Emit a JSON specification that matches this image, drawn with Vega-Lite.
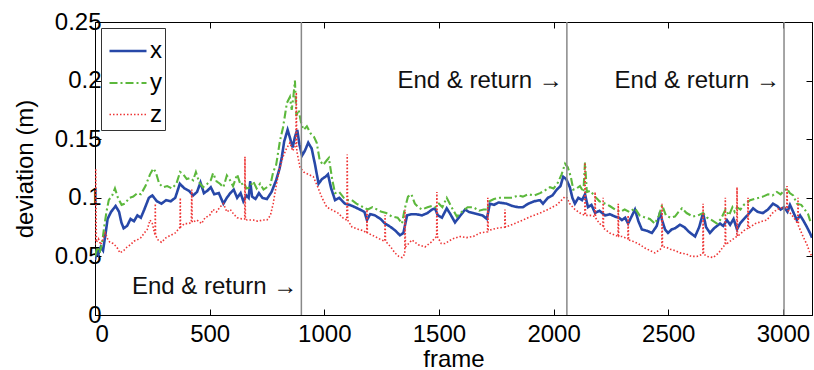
{
  "$schema": "https://vega.github.io/schema/vega-lite/v6.json",
  "autosize": "none",
  "width": 717,
  "height": 293,
  "padding": {"left": 95, "top": 22, "right": 2, "bottom": 55},
  "background": "white",
  "config": {
    "font": "Liberation Sans",
    "view": {"stroke": "#000", "strokeWidth": 1},
    "axis": {
      "domainColor": "#000", "tickColor": "#000", "labelColor": "#000", "titleColor": "#000",
      "labelFont": "Liberation Sans", "titleFont": "Liberation Sans",
      "labelFontSize": 24, "titleFontSize": 24, "titleFontWeight": "normal",
      "grid": false, "tickSize": -6
    }
  },
  "datasets": {
    "series": [
      {"frame":0,"s":"x","v":0.047},{"frame":8,"s":"x","v":0.056},{"frame":15,"s":"x","v":0.052},{"frame":25,"s":"x","v":0.058},{"frame":35,"s":"x","v":0.055},{"frame":45,"s":"x","v":0.068},{"frame":55,"s":"x","v":0.082},{"frame":70,"s":"x","v":0.088},{"frame":90,"s":"x","v":0.093},{"frame":105,"s":"x","v":0.088},{"frame":115,"s":"x","v":0.079},{"frame":125,"s":"x","v":0.074},{"frame":140,"s":"x","v":0.076},{"frame":155,"s":"x","v":0.082},{"frame":170,"s":"x","v":0.08},{"frame":185,"s":"x","v":0.085},{"frame":200,"s":"x","v":0.083},{"frame":215,"s":"x","v":0.09},{"frame":235,"s":"x","v":0.1},{"frame":250,"s":"x","v":0.102},{"frame":270,"s":"x","v":0.097},{"frame":290,"s":"x","v":0.095},{"frame":310,"s":"x","v":0.098},{"frame":330,"s":"x","v":0.097},{"frame":350,"s":"x","v":0.1},{"frame":370,"s":"x","v":0.112},{"frame":390,"s":"x","v":0.108},{"frame":410,"s":"x","v":0.106},{"frame":428,"s":"x","v":0.102},{"frame":445,"s":"x","v":0.105},{"frame":460,"s":"x","v":0.113},{"frame":475,"s":"x","v":0.104},{"frame":490,"s":"x","v":0.106},{"frame":505,"s":"x","v":0.109},{"frame":520,"s":"x","v":0.103},{"frame":540,"s":"x","v":0.104},{"frame":560,"s":"x","v":0.095},{"frame":575,"s":"x","v":0.1},{"frame":590,"s":"x","v":0.104},{"frame":605,"s":"x","v":0.107},{"frame":620,"s":"x","v":0.1},{"frame":635,"s":"x","v":0.104},{"frame":647,"s":"x","v":0.097},{"frame":660,"s":"x","v":0.102},{"frame":670,"s":"x","v":0.1},{"frame":677,"s":"x","v":0.114},{"frame":685,"s":"x","v":0.101},{"frame":700,"s":"x","v":0.099},{"frame":715,"s":"x","v":0.104},{"frame":730,"s":"x","v":0.1},{"frame":750,"s":"x","v":0.099},{"frame":770,"s":"x","v":0.105},{"frame":790,"s":"x","v":0.115},{"frame":805,"s":"x","v":0.125},{"frame":815,"s":"x","v":0.135},{"frame":825,"s":"x","v":0.148},{"frame":840,"s":"x","v":0.158},{"frame":852,"s":"x","v":0.15},{"frame":862,"s":"x","v":0.143},{"frame":872,"s":"x","v":0.152},{"frame":882,"s":"x","v":0.158},{"frame":892,"s":"x","v":0.145},{"frame":903,"s":"x","v":0.136},{"frame":915,"s":"x","v":0.14},{"frame":930,"s":"x","v":0.147},{"frame":945,"s":"x","v":0.142},{"frame":960,"s":"x","v":0.128},{"frame":975,"s":"x","v":0.112},{"frame":990,"s":"x","v":0.116},{"frame":1005,"s":"x","v":0.118},{"frame":1016,"s":"x","v":0.12},{"frame":1030,"s":"x","v":0.108},{"frame":1047,"s":"x","v":0.098},{"frame":1065,"s":"x","v":0.1},{"frame":1090,"s":"x","v":0.095},{"frame":1110,"s":"x","v":0.094},{"frame":1134,"s":"x","v":0.092},{"frame":1155,"s":"x","v":0.09},{"frame":1175,"s":"x","v":0.088},{"frame":1186,"s":"x","v":0.081},{"frame":1200,"s":"x","v":0.086},{"frame":1221,"s":"x","v":0.085},{"frame":1245,"s":"x","v":0.082},{"frame":1265,"s":"x","v":0.078},{"frame":1290,"s":"x","v":0.075},{"frame":1310,"s":"x","v":0.072},{"frame":1330,"s":"x","v":0.068},{"frame":1345,"s":"x","v":0.07},{"frame":1361,"s":"x","v":0.085},{"frame":1380,"s":"x","v":0.086},{"frame":1400,"s":"x","v":0.086},{"frame":1426,"s":"x","v":0.085},{"frame":1450,"s":"x","v":0.087},{"frame":1470,"s":"x","v":0.09},{"frame":1483,"s":"x","v":0.091},{"frame":1495,"s":"x","v":0.085},{"frame":1513,"s":"x","v":0.083},{"frame":1534,"s":"x","v":0.091},{"frame":1550,"s":"x","v":0.086},{"frame":1570,"s":"x","v":0.079},{"frame":1590,"s":"x","v":0.084},{"frame":1614,"s":"x","v":0.09},{"frame":1630,"s":"x","v":0.088},{"frame":1650,"s":"x","v":0.087},{"frame":1670,"s":"x","v":0.086},{"frame":1690,"s":"x","v":0.085},{"frame":1709,"s":"x","v":0.082},{"frame":1722,"s":"x","v":0.095},{"frame":1740,"s":"x","v":0.094},{"frame":1760,"s":"x","v":0.096},{"frame":1795,"s":"x","v":0.095},{"frame":1820,"s":"x","v":0.093},{"frame":1845,"s":"x","v":0.092},{"frame":1866,"s":"x","v":0.092},{"frame":1890,"s":"x","v":0.095},{"frame":1915,"s":"x","v":0.097},{"frame":1941,"s":"x","v":0.098},{"frame":1954,"s":"x","v":0.095},{"frame":1975,"s":"x","v":0.1},{"frame":1995,"s":"x","v":0.102},{"frame":2014,"s":"x","v":0.107},{"frame":2030,"s":"x","v":0.11},{"frame":2042,"s":"x","v":0.118},{"frame":2055,"s":"x","v":0.116},{"frame":2071,"s":"x","v":0.109},{"frame":2082,"s":"x","v":0.1},{"frame":2093,"s":"x","v":0.095},{"frame":2108,"s":"x","v":0.1},{"frame":2124,"s":"x","v":0.098},{"frame":2137,"s":"x","v":0.103},{"frame":2150,"s":"x","v":0.092},{"frame":2165,"s":"x","v":0.094},{"frame":2181,"s":"x","v":0.087},{"frame":2200,"s":"x","v":0.089},{"frame":2224,"s":"x","v":0.085},{"frame":2245,"s":"x","v":0.086},{"frame":2268,"s":"x","v":0.084},{"frame":2285,"s":"x","v":0.083},{"frame":2298,"s":"x","v":0.081},{"frame":2312,"s":"x","v":0.083},{"frame":2325,"s":"x","v":0.078},{"frame":2340,"s":"x","v":0.084},{"frame":2355,"s":"x","v":0.09},{"frame":2370,"s":"x","v":0.08},{"frame":2385,"s":"x","v":0.073},{"frame":2405,"s":"x","v":0.072},{"frame":2429,"s":"x","v":0.07},{"frame":2450,"s":"x","v":0.076},{"frame":2465,"s":"x","v":0.088},{"frame":2473,"s":"x","v":0.081},{"frame":2486,"s":"x","v":0.073},{"frame":2499,"s":"x","v":0.07},{"frame":2515,"s":"x","v":0.073},{"frame":2530,"s":"x","v":0.074},{"frame":2551,"s":"x","v":0.077},{"frame":2570,"s":"x","v":0.075},{"frame":2590,"s":"x","v":0.071},{"frame":2617,"s":"x","v":0.067},{"frame":2635,"s":"x","v":0.075},{"frame":2652,"s":"x","v":0.087},{"frame":2665,"s":"x","v":0.075},{"frame":2682,"s":"x","v":0.07},{"frame":2700,"s":"x","v":0.074},{"frame":2726,"s":"x","v":0.078},{"frame":2740,"s":"x","v":0.076},{"frame":2756,"s":"x","v":0.081},{"frame":2770,"s":"x","v":0.077},{"frame":2785,"s":"x","v":0.082},{"frame":2800,"s":"x","v":0.073},{"frame":2813,"s":"x","v":0.078},{"frame":2826,"s":"x","v":0.081},{"frame":2845,"s":"x","v":0.085},{"frame":2870,"s":"x","v":0.091},{"frame":2890,"s":"x","v":0.088},{"frame":2913,"s":"x","v":0.087},{"frame":2935,"s":"x","v":0.09},{"frame":2957,"s":"x","v":0.095},{"frame":2975,"s":"x","v":0.093},{"frame":2990,"s":"x","v":0.09},{"frame":3005,"s":"x","v":0.092},{"frame":3020,"s":"x","v":0.088},{"frame":3031,"s":"x","v":0.094},{"frame":3045,"s":"x","v":0.088},{"frame":3061,"s":"x","v":0.081},{"frame":3075,"s":"x","v":0.085},{"frame":3088,"s":"x","v":0.081},{"frame":3105,"s":"x","v":0.075},{"frame":3118,"s":"x","v":0.07},{"frame":3127,"s":"x","v":0.066},

      {"frame":0,"s":"y","v":0.05},{"frame":10,"s":"y","v":0.058},{"frame":20,"s":"y","v":0.053},{"frame":30,"s":"y","v":0.06},{"frame":40,"s":"y","v":0.075},{"frame":50,"s":"y","v":0.088},{"frame":60,"s":"y","v":0.098},{"frame":75,"s":"y","v":0.102},{"frame":87,"s":"y","v":0.108},{"frame":100,"s":"y","v":0.1},{"frame":116,"s":"y","v":0.094},{"frame":130,"s":"y","v":0.095},{"frame":150,"s":"y","v":0.1},{"frame":167,"s":"y","v":0.101},{"frame":185,"s":"y","v":0.104},{"frame":200,"s":"y","v":0.103},{"frame":220,"s":"y","v":0.11},{"frame":240,"s":"y","v":0.12},{"frame":254,"s":"y","v":0.125},{"frame":265,"s":"y","v":0.122},{"frame":280,"s":"y","v":0.112},{"frame":297,"s":"y","v":0.109},{"frame":315,"s":"y","v":0.11},{"frame":335,"s":"y","v":0.108},{"frame":355,"s":"y","v":0.112},{"frame":371,"s":"y","v":0.122},{"frame":385,"s":"y","v":0.12},{"frame":400,"s":"y","v":0.116},{"frame":415,"s":"y","v":0.117},{"frame":428,"s":"y","v":0.115},{"frame":440,"s":"y","v":0.122},{"frame":455,"s":"y","v":0.113},{"frame":471,"s":"y","v":0.109},{"frame":490,"s":"y","v":0.112},{"frame":505,"s":"y","v":0.115},{"frame":515,"s":"y","v":0.121},{"frame":530,"s":"y","v":0.114},{"frame":545,"s":"y","v":0.112},{"frame":560,"s":"y","v":0.109},{"frame":575,"s":"y","v":0.119},{"frame":589,"s":"y","v":0.115},{"frame":602,"s":"y","v":0.11},{"frame":620,"s":"y","v":0.12},{"frame":635,"s":"y","v":0.111},{"frame":650,"s":"y","v":0.113},{"frame":660,"s":"y","v":0.108},{"frame":676,"s":"y","v":0.109},{"frame":690,"s":"y","v":0.114},{"frame":705,"s":"y","v":0.108},{"frame":720,"s":"y","v":0.112},{"frame":735,"s":"y","v":0.107},{"frame":750,"s":"y","v":0.109},{"frame":765,"s":"y","v":0.111},{"frame":777,"s":"y","v":0.122},{"frame":790,"s":"y","v":0.128},{"frame":807,"s":"y","v":0.149},{"frame":820,"s":"y","v":0.16},{"frame":837,"s":"y","v":0.181},{"frame":850,"s":"y","v":0.186},{"frame":858,"s":"y","v":0.175},{"frame":865,"s":"y","v":0.186},{"frame":872,"s":"y","v":0.2},{"frame":878,"s":"y","v":0.17},{"frame":888,"s":"y","v":0.175},{"frame":900,"s":"y","v":0.163},{"frame":910,"s":"y","v":0.158},{"frame":924,"s":"y","v":0.161},{"frame":940,"s":"y","v":0.155},{"frame":955,"s":"y","v":0.152},{"frame":967,"s":"y","v":0.147},{"frame":980,"s":"y","v":0.132},{"frame":995,"s":"y","v":0.128},{"frame":1011,"s":"y","v":0.132},{"frame":1020,"s":"y","v":0.134},{"frame":1035,"s":"y","v":0.115},{"frame":1047,"s":"y","v":0.104},{"frame":1065,"s":"y","v":0.105},{"frame":1085,"s":"y","v":0.1},{"frame":1103,"s":"y","v":0.098},{"frame":1120,"s":"y","v":0.098},{"frame":1140,"s":"y","v":0.095},{"frame":1160,"s":"y","v":0.093},{"frame":1190,"s":"y","v":0.09},{"frame":1210,"s":"y","v":0.092},{"frame":1230,"s":"y","v":0.09},{"frame":1250,"s":"y","v":0.088},{"frame":1270,"s":"y","v":0.087},{"frame":1295,"s":"y","v":0.084},{"frame":1320,"s":"y","v":0.083},{"frame":1339,"s":"y","v":0.078},{"frame":1350,"s":"y","v":0.09},{"frame":1365,"s":"y","v":0.101},{"frame":1380,"s":"y","v":0.103},{"frame":1395,"s":"y","v":0.095},{"frame":1410,"s":"y","v":0.092},{"frame":1426,"s":"y","v":0.09},{"frame":1450,"s":"y","v":0.092},{"frame":1470,"s":"y","v":0.093},{"frame":1483,"s":"y","v":0.092},{"frame":1500,"s":"y","v":0.095},{"frame":1515,"s":"y","v":0.092},{"frame":1534,"s":"y","v":0.1},{"frame":1555,"s":"y","v":0.092},{"frame":1578,"s":"y","v":0.084},{"frame":1600,"s":"y","v":0.088},{"frame":1625,"s":"y","v":0.092},{"frame":1650,"s":"y","v":0.092},{"frame":1675,"s":"y","v":0.089},{"frame":1695,"s":"y","v":0.09},{"frame":1709,"s":"y","v":0.09},{"frame":1720,"s":"y","v":0.097},{"frame":1740,"s":"y","v":0.099},{"frame":1765,"s":"y","v":0.1},{"frame":1795,"s":"y","v":0.1},{"frame":1820,"s":"y","v":0.1},{"frame":1845,"s":"y","v":0.102},{"frame":1866,"s":"y","v":0.101},{"frame":1890,"s":"y","v":0.103},{"frame":1915,"s":"y","v":0.102},{"frame":1941,"s":"y","v":0.104},{"frame":1960,"s":"y","v":0.106},{"frame":1984,"s":"y","v":0.109},{"frame":2000,"s":"y","v":0.108},{"frame":2019,"s":"y","v":0.113},{"frame":2035,"s":"y","v":0.12},{"frame":2050,"s":"y","v":0.129},{"frame":2062,"s":"y","v":0.126},{"frame":2075,"s":"y","v":0.118},{"frame":2086,"s":"y","v":0.107},{"frame":2100,"s":"y","v":0.108},{"frame":2115,"s":"y","v":0.11},{"frame":2130,"s":"y","v":0.105},{"frame":2137,"s":"y","v":0.13},{"frame":2145,"s":"y","v":0.105},{"frame":2160,"s":"y","v":0.106},{"frame":2181,"s":"y","v":0.101},{"frame":2200,"s":"y","v":0.097},{"frame":2225,"s":"y","v":0.095},{"frame":2245,"s":"y","v":0.093},{"frame":2268,"s":"y","v":0.09},{"frame":2290,"s":"y","v":0.088},{"frame":2310,"s":"y","v":0.09},{"frame":2330,"s":"y","v":0.088},{"frame":2355,"s":"y","v":0.091},{"frame":2375,"s":"y","v":0.085},{"frame":2400,"s":"y","v":0.083},{"frame":2420,"s":"y","v":0.082},{"frame":2442,"s":"y","v":0.078},{"frame":2460,"s":"y","v":0.085},{"frame":2473,"s":"y","v":0.094},{"frame":2490,"s":"y","v":0.085},{"frame":2510,"s":"y","v":0.083},{"frame":2529,"s":"y","v":0.084},{"frame":2545,"s":"y","v":0.088},{"frame":2560,"s":"y","v":0.091},{"frame":2580,"s":"y","v":0.087},{"frame":2608,"s":"y","v":0.084},{"frame":2630,"s":"y","v":0.085},{"frame":2652,"s":"y","v":0.087},{"frame":2670,"s":"y","v":0.083},{"frame":2690,"s":"y","v":0.081},{"frame":2713,"s":"y","v":0.078},{"frame":2730,"s":"y","v":0.082},{"frame":2750,"s":"y","v":0.09},{"frame":2765,"s":"y","v":0.085},{"frame":2780,"s":"y","v":0.092},{"frame":2790,"s":"y","v":0.088},{"frame":2800,"s":"y","v":0.092},{"frame":2815,"s":"y","v":0.09},{"frame":2830,"s":"y","v":0.094},{"frame":2845,"s":"y","v":0.096},{"frame":2857,"s":"y","v":0.098},{"frame":2875,"s":"y","v":0.099},{"frame":2895,"s":"y","v":0.1},{"frame":2913,"s":"y","v":0.101},{"frame":2935,"s":"y","v":0.103},{"frame":2955,"s":"y","v":0.102},{"frame":2974,"s":"y","v":0.105},{"frame":2990,"s":"y","v":0.103},{"frame":3005,"s":"y","v":0.106},{"frame":3018,"s":"y","v":0.108},{"frame":3030,"s":"y","v":0.104},{"frame":3045,"s":"y","v":0.102},{"frame":3061,"s":"y","v":0.095},{"frame":3080,"s":"y","v":0.094},{"frame":3095,"s":"y","v":0.09},{"frame":3110,"s":"y","v":0.086},{"frame":3118,"s":"y","v":0.081},{"frame":3127,"s":"y","v":0.078},

      {"frame":0,"s":"z","v":0.06},{"frame":3,"s":"z","v":0.125},{"frame":6,"s":"z","v":0.062},{"frame":15,"s":"z","v":0.065},{"frame":25,"s":"z","v":0.06},{"frame":35,"s":"z","v":0.065},{"frame":45,"s":"z","v":0.07},{"frame":55,"s":"z","v":0.065},{"frame":65,"s":"z","v":0.062},{"frame":79,"s":"z","v":0.061},{"frame":95,"s":"z","v":0.058},{"frame":109,"s":"z","v":0.053},{"frame":125,"s":"z","v":0.055},{"frame":140,"s":"z","v":0.058},{"frame":155,"s":"z","v":0.06},{"frame":170,"s":"z","v":0.063},{"frame":183,"s":"z","v":0.064},{"frame":200,"s":"z","v":0.066},{"frame":215,"s":"z","v":0.07},{"frame":228,"s":"z","v":0.073},{"frame":240,"s":"z","v":0.081},{"frame":250,"s":"z","v":0.078},{"frame":262,"s":"z","v":0.068},{"frame":263,"s":"z","v":0.095},{"frame":264,"s":"z","v":0.068},{"frame":275,"s":"z","v":0.064},{"frame":290,"s":"z","v":0.062},{"frame":310,"s":"z","v":0.066},{"frame":330,"s":"z","v":0.068},{"frame":350,"s":"z","v":0.07},{"frame":371,"s":"z","v":0.075},{"frame":372,"s":"z","v":0.1},{"frame":373,"s":"z","v":0.075},{"frame":390,"s":"z","v":0.078},{"frame":410,"s":"z","v":0.078},{"frame":420,"s":"z","v":0.079},{"frame":422,"s":"z","v":0.107},{"frame":424,"s":"z","v":0.079},{"frame":445,"s":"z","v":0.081},{"frame":465,"s":"z","v":0.078},{"frame":480,"s":"z","v":0.083},{"frame":500,"s":"z","v":0.085},{"frame":515,"s":"z","v":0.09},{"frame":530,"s":"z","v":0.088},{"frame":545,"s":"z","v":0.092},{"frame":560,"s":"z","v":0.095},{"frame":575,"s":"z","v":0.088},{"frame":590,"s":"z","v":0.09},{"frame":605,"s":"z","v":0.086},{"frame":620,"s":"z","v":0.083},{"frame":640,"s":"z","v":0.082},{"frame":653,"s":"z","v":0.082},{"frame":654,"s":"z","v":0.135},{"frame":656,"s":"z","v":0.082},{"frame":663,"s":"z","v":0.081},{"frame":690,"s":"z","v":0.081},{"frame":710,"s":"z","v":0.08},{"frame":730,"s":"z","v":0.081},{"frame":750,"s":"z","v":0.081},{"frame":765,"s":"z","v":0.085},{"frame":777,"s":"z","v":0.095},{"frame":790,"s":"z","v":0.11},{"frame":805,"s":"z","v":0.125},{"frame":820,"s":"z","v":0.135},{"frame":835,"s":"z","v":0.142},{"frame":850,"s":"z","v":0.147},{"frame":862,"s":"z","v":0.14},{"frame":876,"s":"z","v":0.145},{"frame":878,"s":"z","v":0.19},{"frame":880,"s":"z","v":0.14},{"frame":894,"s":"z","v":0.126},{"frame":910,"s":"z","v":0.122},{"frame":930,"s":"z","v":0.12},{"frame":952,"s":"z","v":0.118},{"frame":970,"s":"z","v":0.11},{"frame":990,"s":"z","v":0.1},{"frame":1011,"s":"z","v":0.092},{"frame":1030,"s":"z","v":0.09},{"frame":1060,"s":"z","v":0.087},{"frame":1080,"s":"z","v":0.083},{"frame":1098,"s":"z","v":0.081},{"frame":1100,"s":"z","v":0.137},{"frame":1102,"s":"z","v":0.081},{"frame":1121,"s":"z","v":0.075},{"frame":1150,"s":"z","v":0.073},{"frame":1170,"s":"z","v":0.072},{"frame":1185,"s":"z","v":0.07},{"frame":1186,"s":"z","v":0.09},{"frame":1188,"s":"z","v":0.07},{"frame":1210,"s":"z","v":0.068},{"frame":1230,"s":"z","v":0.066},{"frame":1250,"s":"z","v":0.064},{"frame":1264,"s":"z","v":0.063},{"frame":1265,"s":"z","v":0.085},{"frame":1267,"s":"z","v":0.063},{"frame":1290,"s":"z","v":0.058},{"frame":1308,"s":"z","v":0.053},{"frame":1325,"s":"z","v":0.05},{"frame":1339,"s":"z","v":0.049},{"frame":1351,"s":"z","v":0.052},{"frame":1352,"s":"z","v":0.09},{"frame":1354,"s":"z","v":0.058},{"frame":1382,"s":"z","v":0.064},{"frame":1410,"s":"z","v":0.06},{"frame":1439,"s":"z","v":0.058},{"frame":1465,"s":"z","v":0.062},{"frame":1490,"s":"z","v":0.067},{"frame":1491,"s":"z","v":0.105},{"frame":1493,"s":"z","v":0.067},{"frame":1510,"s":"z","v":0.061},{"frame":1526,"s":"z","v":0.061},{"frame":1560,"s":"z","v":0.065},{"frame":1592,"s":"z","v":0.067},{"frame":1620,"s":"z","v":0.066},{"frame":1650,"s":"z","v":0.067},{"frame":1680,"s":"z","v":0.07},{"frame":1712,"s":"z","v":0.071},{"frame":1713,"s":"z","v":0.1},{"frame":1715,"s":"z","v":0.072},{"frame":1750,"s":"z","v":0.074},{"frame":1787,"s":"z","v":0.075},{"frame":1788,"s":"z","v":0.09},{"frame":1790,"s":"z","v":0.075},{"frame":1830,"s":"z","v":0.078},{"frame":1866,"s":"z","v":0.081},{"frame":1900,"s":"z","v":0.084},{"frame":1941,"s":"z","v":0.087},{"frame":1975,"s":"z","v":0.09},{"frame":2014,"s":"z","v":0.094},{"frame":2035,"s":"z","v":0.098},{"frame":2050,"s":"z","v":0.101},{"frame":2058,"s":"z","v":0.1},{"frame":2070,"s":"z","v":0.095},{"frame":2093,"s":"z","v":0.09},{"frame":2115,"s":"z","v":0.087},{"frame":2136,"s":"z","v":0.085},{"frame":2137,"s":"z","v":0.13},{"frame":2139,"s":"z","v":0.085},{"frame":2160,"s":"z","v":0.085},{"frame":2180,"s":"z","v":0.084},{"frame":2181,"s":"z","v":0.105},{"frame":2183,"s":"z","v":0.083},{"frame":2200,"s":"z","v":0.078},{"frame":2215,"s":"z","v":0.076},{"frame":2216,"s":"z","v":0.1},{"frame":2218,"s":"z","v":0.074},{"frame":2245,"s":"z","v":0.07},{"frame":2270,"s":"z","v":0.068},{"frame":2281,"s":"z","v":0.067},{"frame":2282,"s":"z","v":0.095},{"frame":2284,"s":"z","v":0.067},{"frame":2298,"s":"z","v":0.067},{"frame":2324,"s":"z","v":0.065},{"frame":2325,"s":"z","v":0.085},{"frame":2327,"s":"z","v":0.064},{"frame":2345,"s":"z","v":0.063},{"frame":2368,"s":"z","v":0.061},{"frame":2400,"s":"z","v":0.057},{"frame":2420,"s":"z","v":0.055},{"frame":2442,"s":"z","v":0.053},{"frame":2465,"s":"z","v":0.056},{"frame":2472,"s":"z","v":0.058},{"frame":2473,"s":"z","v":0.095},{"frame":2475,"s":"z","v":0.058},{"frame":2490,"s":"z","v":0.058},{"frame":2510,"s":"z","v":0.056},{"frame":2529,"s":"z","v":0.055},{"frame":2551,"s":"z","v":0.053},{"frame":2580,"s":"z","v":0.052},{"frame":2600,"s":"z","v":0.05},{"frame":2625,"s":"z","v":0.05},{"frame":2651,"s":"z","v":0.052},{"frame":2652,"s":"z","v":0.095},{"frame":2654,"s":"z","v":0.052},{"frame":2670,"s":"z","v":0.05},{"frame":2696,"s":"z","v":0.049},{"frame":2720,"s":"z","v":0.053},{"frame":2739,"s":"z","v":0.058},{"frame":2748,"s":"z","v":0.06},{"frame":2749,"s":"z","v":0.1},{"frame":2751,"s":"z","v":0.06},{"frame":2770,"s":"z","v":0.063},{"frame":2799,"s":"z","v":0.067},{"frame":2800,"s":"z","v":0.109},{"frame":2802,"s":"z","v":0.067},{"frame":2830,"s":"z","v":0.072},{"frame":2847,"s":"z","v":0.074},{"frame":2848,"s":"z","v":0.1},{"frame":2850,"s":"z","v":0.074},{"frame":2880,"s":"z","v":0.078},{"frame":2910,"s":"z","v":0.08},{"frame":2930,"s":"z","v":0.081},{"frame":2955,"s":"z","v":0.087},{"frame":2974,"s":"z","v":0.09},{"frame":3000,"s":"z","v":0.092},{"frame":3017,"s":"z","v":0.091},{"frame":3018,"s":"z","v":0.11},{"frame":3020,"s":"z","v":0.09},{"frame":3044,"s":"z","v":0.084},{"frame":3065,"s":"z","v":0.078},{"frame":3066,"s":"z","v":0.1},{"frame":3068,"s":"z","v":0.076},{"frame":3088,"s":"z","v":0.067},{"frame":3105,"s":"z","v":0.06},{"frame":3118,"s":"z","v":0.053},{"frame":3127,"s":"z","v":0.05}
    ],
    "marks": [
      {"frame": 900, "label": "End & return →", "ty": 0.018},
      {"frame": 2058, "label": "End & return →", "ty": 0.1937},
      {"frame": 3005, "label": "End & return →", "ty": 0.1937}
    ]
  },
  "resolve": {"axis": {"x": "independent", "y": "independent"}},
  "layer": [
    {
      "data": {"name": "series"},
      "mark": {"type": "line", "clip": true},
      "encoding": {
        "x": {"field": "frame", "type": "quantitative", "scale": {"domain": [0, 3127], "nice": false, "zero": false},
              "axis": {"values": [0, 500, 1000, 1500, 2000, 2500, 3000], "format": "d", "title": "frame", "titlePadding": 1, "labelPadding": 13, "labelFontSize": 24, "titleFontSize": 24}},
        "y": {"field": "v", "type": "quantitative", "scale": {"domain": [0, 0.25], "nice": false},
              "axis": {"values": [0, 0.05, 0.1, 0.15, 0.2, 0.25], "format": "~g", "title": "deviation (m)", "titlePadding": 17, "labelPadding": 0, "labelFontSize": 24, "titleFontSize": 24}},
        "color": {"field": "s", "type": "nominal", "scale": {"domain": ["x", "y", "z"], "range": ["#2748a8", "#5cb83c", "#ee3535"]},
                  "legend": {"title": null, "orient": "none", "legendX": 6, "legendY": 6, "strokeColor": "#333", "fillColor": "white",
                             "padding": 3, "symbolType": "stroke", "symbolSize": 1369, "symbolStrokeWidth": 1.5, "symbolOffset": 4,
                             "labelFontSize": 24, "labelFont": "Liberation Sans", "labelColor": "#000", "labelOffset": 2, "rowPadding": -6}},
        "strokeDash": {"field": "s", "type": "nominal", "scale": {"domain": ["x", "y", "z"], "range": [[1, 0], [8, 3, 2, 3], [1.5, 2]]}},
        "strokeWidth": {"field": "s", "type": "nominal", "scale": {"domain": ["x", "y", "z"], "range": [2.6, 1.6, 1.5]}, "legend": null},
        "order": {"field": "frame", "type": "quantitative"}
      }
    },
    {
      "data": {"name": "marks"},
      "mark": {"type": "rule", "color": "#888", "strokeWidth": 1.5},
      "encoding": {
        "x": {"field": "frame", "type": "quantitative", "scale": {"domain": [0, 3127], "nice": false, "zero": false},
              "axis": {"orient": "top", "values": [0, 500, 1000, 1500, 2000, 2500, 3000], "labels": false, "title": null}},
        "y": {"datum": 0, "type": "quantitative", "scale": {"domain": [0, 0.25], "nice": false},
              "axis": {"orient": "right", "values": [0, 0.05, 0.1, 0.15, 0.2, 0.25], "labels": false, "title": null}},
        "y2": {"datum": 0.25}
      }
    },
    {
      "data": {"name": "marks"},
      "mark": {"type": "text", "align": "right", "baseline": "alphabetic", "fontSize": 24, "font": "Liberation Sans", "color": "#111", "dx": -4},
      "encoding": {
        "x": {"field": "frame", "type": "quantitative", "axis": null},
        "y": {"field": "ty", "type": "quantitative", "axis": null},
        "text": {"field": "label"}
      }
    }
  ]
}
